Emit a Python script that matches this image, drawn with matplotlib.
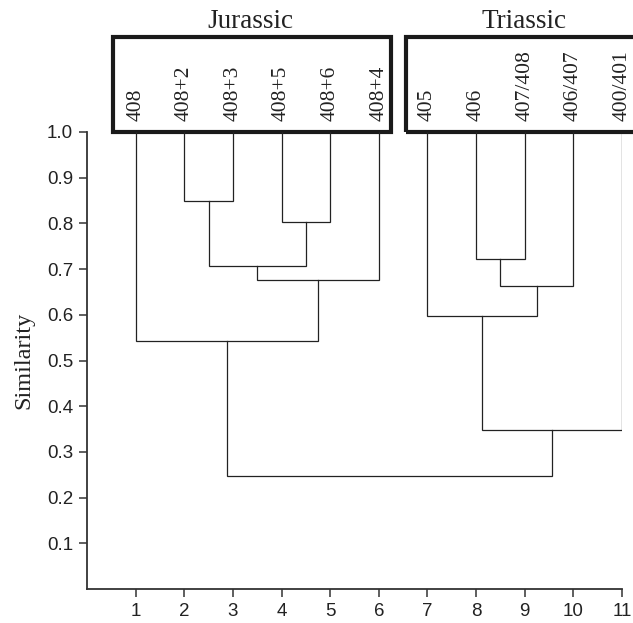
import matplotlib
matplotlib.use("Agg")
import matplotlib.pyplot as plt
from matplotlib.patches import Rectangle

# leaf labels, left to right
leaves = ['408', '408+2', '408+3', '408+5', '408+6', '408+4',
          '405', '406', '407/408', '406/407', '400/401']
# merges: child a, child b, similarity (new node gets next index)
merge_a = [1, 3, 11, 13, 0, 7, 16, 6, 18, 15]
merge_b = [2, 4, 12, 5, 14, 8, 9, 17, 10, 19]
merge_sim = [0.848, 0.802, 0.707, 0.677, 0.542, 0.723, 0.663, 0.598, 0.348, 0.248]

groups = ['Jurassic', 'Triassic']
yticks = [0.1, 0.2, 0.3, 0.4, 0.5, 0.6, 0.7, 0.8, 0.9, 1.0]

serif = ['Liberation Serif', 'DejaVu Serif']
sans = ['Liberation Sans', 'DejaVu Sans']

fig = plt.figure(figsize=(6.33, 6.23), dpi=100)
ax = fig.add_axes([87 / 633, 34 / 623, 535 / 633, 457 / 623])

xpos = [i + 1 for i in range(len(leaves))]
hgt = [1.0] * len(leaves)
for a, b, s in zip(merge_a, merge_b, merge_sim):
    xa, xb = xpos[a], xpos[b]
    ax.plot([xa, xa, xb, xb], [hgt[a], s, s, hgt[b]], color='#222222', lw=0.9,
            solid_joinstyle='miter')
    xpos.append((xa + xb) / 2)
    hgt.append(s)

# leaf labels
for i, name in enumerate(leaves):
    ax.text(i + 1, 1.024, name, rotation=90, ha='center', va='bottom',
            fontsize=15.5, family=serif, color='#222222', clip_on=False)

# group boxes
ax.add_patch(Rectangle((0.54, 1.0), 6.26 - 0.54, 1.207 - 1.0, fill=False,
                       lw=3.0, ec='#1a1a1a', clip_on=False, joinstyle='miter'))
ax.add_patch(Rectangle((6.55, 1.0), 11.5 - 6.55, 1.207 - 1.0, fill=False,
                       lw=3.0, ec='#1a1a1a', clip_on=False, joinstyle='miter'))
ax.text(3.36, 1.228, groups[0], ha='center', va='baseline', fontsize=19.5,
        family=serif, color='#222222', clip_on=False)
ax.text(8.99, 1.228, groups[1], ha='center', va='baseline', fontsize=19.5,
        family=serif, color='#222222', clip_on=False)

ax.set_xlim(0, 11)
ax.set_ylim(0, 1.0)
ax.set_xticks(range(1, 12))
ax.set_yticks(yticks)
ax.set_yticklabels(['%.1f' % v for v in yticks])
for lab in ax.get_xticklabels() + ax.get_yticklabels():
    lab.set_family(sans)
    lab.set_fontsize(13.5)
    lab.set_color('#222222')
ax.tick_params(direction='out', length=6, width=1.1, color='#333333', pad=4)
for side in ['top', 'right']:
    ax.spines[side].set_visible(False)
for side in ['left', 'bottom']:
    ax.spines[side].set_linewidth(1.3)
    ax.spines[side].set_color('#333333')

ax.set_ylabel('Similarity', family=serif, fontsize=17.5, color='#222222', labelpad=9)

fig.savefig('out.png', dpi=100)
